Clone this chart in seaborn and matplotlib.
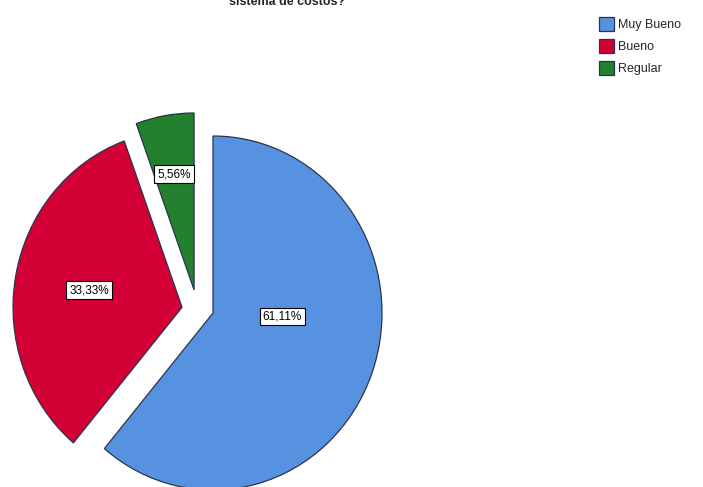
import matplotlib
matplotlib.use("Agg")
import matplotlib.pyplot as plt
import seaborn as sns

# Survey responses
categories = ["Muy Bueno", "Bueno", "Regular"]
counts = [11, 6, 1]
title_text = "sistema de costos?"

# Styling
colors = ["#5792E0", "#D20034", "#23802C"]
explode = [0, 0.186, 0]
green_center = (-0.112, 0.130)
label_offsets = [(0.41, -0.02), (-0.55, 0.096), (-0.118, 0.655)]

sns.set_theme(style="white")
plt.rcParams["font.family"] = ["Liberation Sans", "DejaVu Sans"]

W, H = 703, 487
fig = plt.figure(figsize=(W / 100, H / 100), dpi=100)
ax = fig.add_axes([0, 0, 1, 1])

wedges, texts, autotexts = ax.pie(
    counts,
    colors=colors,
    startangle=90,
    counterclock=False,
    explode=explode,
    autopct=lambda p: f"{p:.2f}%".replace(".", ","),
    pctdistance=0.6,
    wedgeprops=dict(edgecolor="#2a3450", linewidth=0.9),
    textprops=dict(fontsize=8.5, color="black"),
)

# slightly separate the smallest slice
wedges[2].set_center(green_center)

for w, t, (dx, dy) in zip(wedges, autotexts, label_offsets):
    cx, cy = w.center
    t.set_position((cx + dx, cy + dy))
    t.set_ha("center")
    t.set_va("center")
    t.set_bbox(dict(boxstyle="square,pad=0.25", fc="white", ec="black", lw=0.8))

# pixel-based scaling (slightly taller than wide)
cx_px, cy_px, rx, ry = 213, 313, 169, 177
ax.set_aspect("auto")
ax.set_xlim(-cx_px / rx, (W - cx_px) / rx)
ax.set_ylim(-(H - cy_px) / ry, cy_px / ry)
ax.axis("off")

fig.text(287 / W, 1 - 5 / H, title_text, ha="center", va="baseline",
         fontweight="bold", fontsize=9)

fig.legend(wedges, categories, loc="upper left",
           bbox_to_anchor=(594 / W, 1 - 12 / H), frameon=False,
           fontsize=9, handlelength=1.2, handleheight=1.4,
           handletextpad=0.3, labelspacing=0.6, borderaxespad=0)

fig.savefig("out.png", dpi=100)
